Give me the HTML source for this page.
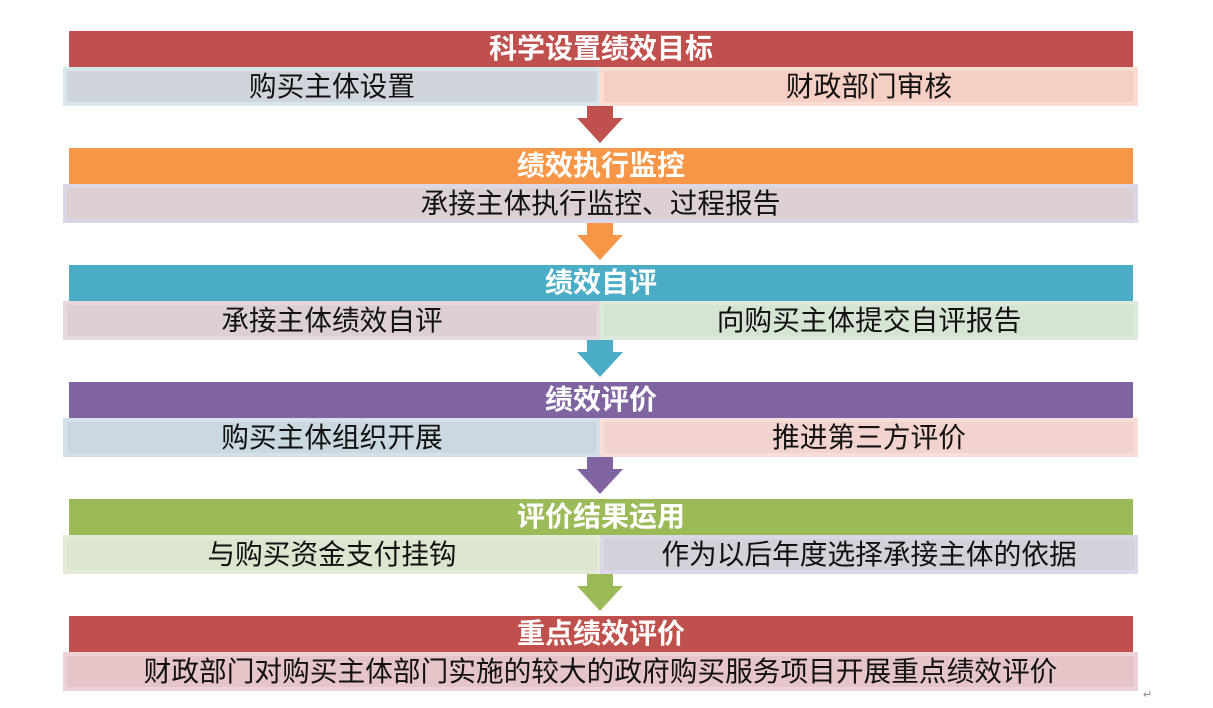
<!DOCTYPE html>
<html><head><meta charset="utf-8"><style>
body{margin:0;width:1213px;height:708px;background:#fff;position:relative;overflow:hidden;font-family:"Liberation Sans","Noto Sans CJK SC",sans-serif}
.h{position:absolute;left:69px;width:1064px;height:36px;color:#fff;font-weight:bold;font-size:28px;line-height:36px;text-align:center;white-space:nowrap}
.s{position:absolute;height:39px;box-sizing:border-box;border:4px solid;font-size:27.7px;line-height:32px;text-align:center;color:#111;white-space:nowrap}
.a{position:absolute;left:577px;width:0;height:0;border-left:23px solid transparent;border-right:23px solid transparent;border-top:25px solid}
.st{position:absolute;left:587px;width:26px;height:13px}
.mark{position:absolute;left:1143px;top:688px;font-size:11px;color:#888}
</style></head><body>

<div class="h" style="top:31px;background:#C0504D">科学设置绩效目标</div>
<div class="s" style="top:67px;left:63px;width:538px;background:#D0D5DD;border-color:#D6E6EA">购买主体设置</div>
<div class="s" style="top:67px;left:600px;width:538px;background:#F5CFC3;border-color:#FBDDD3">财政部门审核</div>
<div class="st" style="top:106px;background:#C0504D"></div><div class="a" style="top:118px;border-top-color:#C0504D"></div>

<div class="h" style="top:148px;background:#F79646">绩效执行监控</div>
<div class="s" style="top:184px;left:63px;width:1075px;background:#DDD0D5;border-color:#DCD6E6">承接主体执行监控、过程报告</div>
<div class="st" style="top:223px;background:#F79646"></div><div class="a" style="top:235px;border-top-color:#F79646"></div>

<div class="h" style="top:265px;background:#4BACC6">绩效自评</div>
<div class="s" style="top:301px;left:63px;width:538px;background:#DDD0D3;border-color:#E6D8DB">承接主体绩效自评</div>
<div class="s" style="top:301px;left:600px;width:538px;background:#D6E4D4;border-color:#DCEADB">向购买主体提交自评报告</div>
<div class="st" style="top:340px;background:#4BACC6"></div><div class="a" style="top:352px;border-top-color:#4BACC6"></div>

<div class="h" style="top:382px;background:#8064A2">绩效评价</div>
<div class="s" style="top:418px;left:63px;width:538px;background:#C9D8E1;border-color:#D3E2E8">购买主体组织开展</div>
<div class="s" style="top:418px;left:600px;width:538px;background:#F3D3CE;border-color:#F8DED8">推进第三方评价</div>
<div class="st" style="top:457px;background:#8064A2"></div><div class="a" style="top:469px;border-top-color:#8064A2"></div>

<div class="h" style="top:499px;background:#9BBB59">评价结果运用</div>
<div class="s" style="top:535px;left:63px;width:538px;background:#DCE6CF;border-color:#E3EBD8">与购买资金支付挂钩</div>
<div class="s" style="top:535px;left:600px;width:538px;background:#D3D1D9;border-color:#DCD6E6">作为以后年度选择承接主体的依据</div>
<div class="st" style="top:574px;background:#9BBB59"></div><div class="a" style="top:586px;border-top-color:#9BBB59"></div>

<div class="h" style="top:616px;background:#C0504D">重点绩效评价</div>
<div class="s" style="top:652px;left:63px;width:1075px;background:#E6C5C8;border-color:#EDD3D5">财政部门对购买主体部门实施的较大的政府购买服务项目开展重点绩效评价</div>
<div class="mark">↵</div>
</body></html>
